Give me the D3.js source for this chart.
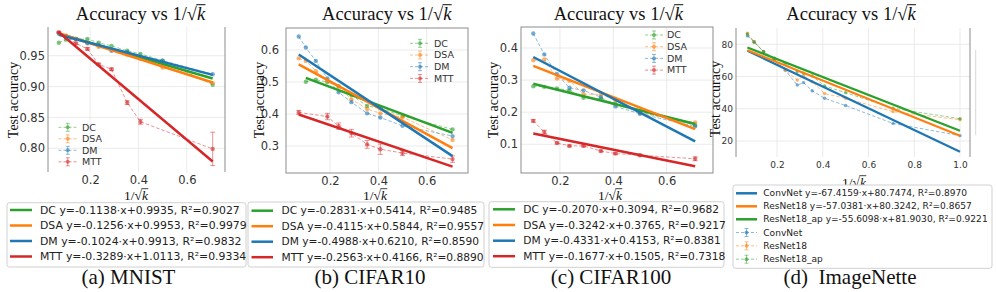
<!DOCTYPE html>
<html><head><meta charset="utf-8">
<script src="https://cdn.jsdelivr.net/npm/d3@7"></script>
<style>body{margin:0;background:#fff} svg{display:block}</style>
</head><body><svg id="c" width="996" height="292"></svg>
<script>
// ---------------- DATA ----------------
const xsFull = [0.0707, 0.1, 0.1414, 0.189, 0.2357, 0.2887, 0.3536, 0.4082, 0.5, 0.7071];
const xsFrom01 = [0.1, 0.1414, 0.189, 0.2357, 0.2887, 0.3536, 0.4082, 0.5, 0.7071];
const xsImageNette = [0.0707, 0.1, 0.1414, 0.189, 0.2357, 0.2887, 0.3162, 0.3536, 0.4082, 0.5, 0.7071, 1.0];

// (a) MNIST
const mnistDC  = [0.971, 0.976, 0.977, 0.977, 0.971, 0.966, 0.958, 0.953, 0.942, 0.903];
const mnistDSA = [0.987, 0.983, 0.977, 0.971, 0.964, 0.960, 0.952, 0.945, 0.931, 0.906];
const mnistDM  = [0.986, 0.980, 0.977, 0.970, 0.967, 0.958, 0.956, 0.948, 0.942, 0.920];
const xsMnistMTT = [0.0707, 0.1, 0.1414, 0.189, 0.2357, 0.2887, 0.3536, 0.4082, 0.7071];
const mnistMTT    = [0.988, 0.981, 0.970, 0.961, 0.936, 0.928, 0.874, 0.843, 0.799];
const mnistMTTerr = [0.001, 0.001, 0.002, 0.002, 0.002, 0.002, 0.003, 0.004, 0.027];

// (b) CIFAR10
const cifar10DC  = [0.501, 0.507, 0.500, 0.487, 0.459, 0.425, 0.418, 0.394, 0.352];
const cifar10DSA = [0.574, 0.566, 0.534, 0.503, 0.485, 0.446, 0.416, 0.402, 0.390, 0.319];
const cifar10DM  = [0.642, 0.608, 0.566, 0.511, 0.468, 0.437, 0.402, 0.389, 0.363, 0.331];
const xsCifar10MTT = [0.0707, 0.189, 0.2357, 0.2887, 0.3536, 0.4082, 0.5, 0.7071];
const cifar10MTT    = [0.405, 0.392, 0.362, 0.340, 0.305, 0.290, 0.278, 0.259];
const cifar10MTTerr = [0.006, 0.010, 0.010, 0.012, 0.012, 0.016, 0.008, 0.010];

// (c) CIFAR100
const cifar100DC  = [0.281, 0.279, 0.274, 0.268, 0.245, 0.242, 0.227, 0.201, 0.160];
const cifar100DSA = [0.362, 0.364, 0.305, 0.298, 0.256, 0.256, 0.237, 0.197, 0.168];
const cifar100DM  = [0.445, 0.380, 0.318, 0.276, 0.268, 0.247, 0.218, 0.195, 0.156];
const cifar100MTT = [0.173, 0.138, 0.104, 0.095, 0.095, 0.079, 0.071, 0.066, 0.055];
const cifar100MTTerr = [0.004, 0.006, 0.003, 0.003, 0.003, 0.003, 0.003, 0.003, 0.006];

// (d) ImageNette
const inConvNet    = [85.2, 81.6, 75.4, 70.0, 64.0, 54.7, 56.2, 51.2, 46.5, 42.0, 30.9, 23.3];
const inResNet18   = [86.8, 81.6, 75.4, 70.3, 64.0, 57.8, 60.3, 56.8, 49.4, 46.5, 38.2, 33.2];
const inResNet18ap = [86.4, 81.2, 75.4, 71.3, 68.2, 63.0, 62.0, 60.3, 54.1, 50.0, 40.3, 33.8];

// fits (slope, intercept) — order DC, DSA, DM, MTT
const fitSlopeA = [-0.1138, -0.1256, -0.1024, -0.3289], fitInterA = [0.9935, 0.9953, 0.9913, 1.0113];
const fitSlopeB = [-0.2831, -0.4115, -0.4988, -0.2563], fitInterB = [0.5414, 0.5844, 0.6210, 0.4166];
const fitSlopeC = [-0.2070, -0.3242, -0.4331, -0.1677], fitInterC = [0.3094, 0.3765, 0.4153, 0.1505];
// order ConvNet, ResNet18, ResNet18_ap
const fitSlopeD = [-67.4159, -57.0381, -55.6098], fitInterD = [80.7474, 80.3242, 81.9030];

const methodNames = ['DC', 'DSA', 'DM', 'MTT'];
const netNames = ['ConvNet', 'ResNet18', 'ResNet18_ap'];
const legendA = ['DC y=-0.1138·x+0.9935, R²=0.9027', 'DSA y=-0.1256·x+0.9953, R²=0.9979', 'DM y=-0.1024·x+0.9913, R²=0.9832', 'MTT y=-0.3289·x+1.0113, R²=0.9334'];
const legendB = ['DC y=-0.2831·x+0.5414, R²=0.9485', 'DSA y=-0.4115·x+0.5844, R²=0.9557', 'DM y=-0.4988·x+0.6210, R²=0.8590', 'MTT y=-0.2563·x+0.4166, R²=0.8890'];
const legendC = ['DC y=-0.2070·x+0.3094, R²=0.9682', 'DSA y=-0.3242·x+0.3765, R²=0.9217', 'DM y=-0.4331·x+0.4153, R²=0.8381', 'MTT y=-0.1677·x+0.1505, R²=0.7318'];
const legendD = ['ConvNet y=-67.4159·x+80.7474, R²=0.8970', 'ResNet18 y=-57.0381·x+80.3242, R²=0.8657', 'ResNet18_ap y=-55.6098·x+81.9030, R²=0.9221'];
const captions = ['(a) MNIST', '(b) CIFAR10', '(c) CIFAR100', '(d)  ImageNette'];

const ticksA_x = [0.2, 0.4, 0.6], ticksA_y = [0.80, 0.85, 0.90, 0.95];
const ticksB_x = [0.2, 0.4, 0.6], ticksB_y = [0.3, 0.4, 0.5, 0.6];
const ticksC_x = [0.2, 0.4, 0.6], ticksC_y = [0.1, 0.2, 0.3, 0.4];
const ticksD_x = [0.2, 0.4, 0.6, 0.8, 1.0], ticksD_y = [20, 40, 60, 80];

// ---------------- STYLE ----------------
const COL = {blue: '#1f77b4', orange: '#ff7f0e', green: '#2ca02c', red: '#d62728'};
const methodColors = [COL.green, COL.orange, COL.blue, COL.red];
const netColors = [COL.blue, COL.orange, COL.green];
const SERIF = '"Liberation Serif", "Times New Roman", serif';
const SANS = '"DejaVu Sans", sans-serif';
const svg = d3.select('#c');

function mathText(g, cx, y, fs, prefix) {
  const t = g.append('text').attr('y', y).attr('font-family', SERIF).attr('font-size', fs).attr('fill', '#111');
  t.append('tspan').text(prefix + '1/√');
  t.append('tspan').attr('font-style', 'italic').text('k');
  const w = t.node().getComputedTextLength();
  t.attr('x', cx - w / 2);
  const n = t.node(), L = prefix.length + 4;
  const r = n.getExtentOfChar(L - 2), k = n.getExtentOfChar(L - 1);
  const yy = y - fs * 0.80;
  g.append('line').attr('x1', r.x + r.width - 0.6).attr('x2', k.x + k.width + 0.3)
    .attr('y1', yy).attr('y2', yy).attr('stroke', '#111').attr('stroke-width', Math.max(0.8, fs * 0.055));
}

function errIcon(g, x0, x1, cy, color) {
  const m = (x0 + x1) / 2;
  g.append('line').attr('x1', x0).attr('x2', x1).attr('y1', cy).attr('y2', cy)
    .attr('stroke', color).attr('stroke-width', 1).attr('stroke-dasharray', '3,2').attr('opacity', 0.5);
  g.append('line').attr('x1', m).attr('x2', m).attr('y1', cy - 4).attr('y2', cy + 4).attr('stroke', color).attr('opacity', 0.5);
  g.append('line').attr('x1', m - 2).attr('x2', m + 2).attr('y1', cy - 4).attr('y2', cy - 4).attr('stroke', color).attr('opacity', 0.5);
  g.append('line').attr('x1', m - 2).attr('x2', m + 2).attr('y1', cy + 4).attr('y2', cy + 4).attr('stroke', color).attr('opacity', 0.5);
  g.append('circle').attr('cx', m).attr('cy', cy).attr('r', 2).attr('fill', color).attr('opacity', 0.6);
}

function panel(cfg) {
  const g = svg.append('g');
  const f = cfg.frame;
  const x = d3.scaleLinear().domain(cfg.xDomain).range([f.x0, f.x1]);
  const y = d3.scaleLinear().domain(cfg.yDomain).range([f.y1, f.y0]);

  // grid
  g.append('g').selectAll('line').data(cfg.xTicks).join('line')
    .attr('x1', d => x(d)).attr('x2', d => x(d)).attr('y1', f.y0).attr('y2', f.y1)
    .attr('stroke', '#e6e6e6').attr('stroke-width', 0.8);
  g.append('g').selectAll('line').data(cfg.yTicks).join('line')
    .attr('x1', f.x0).attr('x2', f.x1).attr('y1', d => y(d)).attr('y2', d => y(d))
    .attr('stroke', '#e6e6e6').attr('stroke-width', 0.8);

  // axes
  const ax = g.append('g').attr('transform', `translate(0,${f.y1})`)
    .call(d3.axisBottom(x).tickValues(cfg.xTicks).tickSize(0).tickPadding(cfg.xPad).tickFormat(d3.format(cfg.xFmt)));
  const ay = g.append('g').attr('transform', `translate(${f.x0},0)`)
    .call(d3.axisLeft(y).tickValues(cfg.yTicks).tickSize(0).tickPadding(cfg.yPad).tickFormat(d3.format(cfg.yFmt)));
  [ax, ay].forEach(a => {
    a.select('.domain').remove();
    a.selectAll('text').attr('font-family', SANS).attr('font-size', cfg.tickFs).attr('fill', '#333');
  });

  // spines
  const sc = '#8c8c8c';
  if (cfg.box) {
    g.append('rect').attr('x', f.x0).attr('y', f.y0).attr('width', f.x1 - f.x0).attr('height', f.y1 - f.y0)
      .attr('fill', 'none').attr('stroke', sc).attr('stroke-width', 1);
  } else {
    g.append('line').attr('x1', f.x0).attr('x2', f.x0).attr('y1', f.y0).attr('y2', f.y1).attr('stroke', sc);
    g.append('line').attr('x1', f.x1).attr('x2', f.x1).attr('y1', f.y0).attr('y2', f.y1).attr('stroke', sc);
  }

  // data series (dashed + markers + error bars)
  const line = d3.line().x(d => x(d[0])).y(d => y(d[1]));
  cfg.series.forEach(s => {
    const pts = s.xs.map((v, i) => [v, s.ys[i], s.err ? s.err[i] : 0]);
    g.append('path').attr('d', line(pts)).attr('fill', 'none').attr('stroke', s.color)
      .attr('stroke-width', 1).attr('stroke-dasharray', '3.5,2').attr('opacity', 0.5);
    pts.forEach(p => {
      if (p[2] > 0) {
        const cx = x(p[0]), ya = y(p[1] + p[2]), yb = y(p[1] - p[2]);
        g.append('line').attr('x1', cx).attr('x2', cx).attr('y1', ya).attr('y2', yb).attr('stroke', s.color).attr('opacity', 0.5);
        [ya, yb].forEach(yy => g.append('line').attr('x1', cx - 2.5).attr('x2', cx + 2.5).attr('y1', yy).attr('y2', yy)
          .attr('stroke', s.color).attr('opacity', 0.5));
      }
    });
    g.append('g').selectAll('circle').data(pts).join('circle')
      .attr('cx', d => x(d[0])).attr('cy', d => y(d[1])).attr('r', cfg.mr || 2.2)
      .attr('fill', s.color).attr('opacity', 0.6);
  });

  // fit lines
  cfg.fits.forEach(ft => {
    g.append('line').attr('x1', x(ft.x0)).attr('x2', x(ft.x1))
      .attr('y1', y(ft.slope * ft.x0 + ft.inter)).attr('y2', y(ft.slope * ft.x1 + ft.inter))
      .attr('stroke', ft.color).attr('stroke-width', cfg.fitW || 2.5);
  });

  // in-panel legend
  if (cfg.inLeg) {
    const L = cfg.inLeg;
    L.names.forEach((nm, i) => {
      const cy = L.y0 + i * L.dy;
      errIcon(g, L.x0, L.x1, cy, L.colors[i]);
      g.append('text').attr('x', L.tx).attr('y', cy).attr('dy', '0.35em').attr('font-family', SANS)
        .attr('font-size', L.fs).attr('fill', '#333').text(nm);
    });
  }

  // title, axis labels
  mathText(g, cfg.titleX, cfg.titleY, 18.5, 'Accuracy vs ');
  mathText(g, cfg.xlabX, cfg.xlabY, 13.5, '');
  g.append('text').attr('transform', `translate(${cfg.ylabX},${cfg.ylabY}) rotate(-90)`)
    .attr('text-anchor', 'middle').attr('dy', '0.35em').attr('font-family', SERIF).attr('font-size', 14)
    .attr('fill', '#111').text('Test accuracy');
}

function fitLegend(box, rows, colors, lineX0, lineX1, textX, targetW, errRows) {
  const g = svg.append('g');
  g.append('rect').attr('x', box.x0).attr('y', box.y0).attr('width', box.x1 - box.x0).attr('height', box.y1 - box.y0)
    .attr('rx', 2.5).attr('fill', '#fff').attr('stroke', '#d0d0d0').attr('stroke-width', 1);
  // size font so that the first row spans the measured width
  const probe = g.append('text').attr('font-family', SANS).attr('font-size', 10).text(rows[0]);
  const fs = 10 * targetW / probe.node().getComputedTextLength();
  probe.remove();
  rows.forEach((r, i) => {
    const cy = box.rowY[i];
    g.append('line').attr('x1', lineX0).attr('x2', lineX1).attr('y1', cy).attr('y2', cy)
      .attr('stroke', colors[i]).attr('stroke-width', 2.5);
    g.append('text').attr('x', textX).attr('y', cy).attr('dy', '0.35em').attr('font-family', SANS)
      .attr('font-size', fs).attr('fill', '#222').text(r);
  });
  if (errRows) {
    errRows.names.forEach((nm, i) => {
      const cy = errRows.rowY[i];
      errIcon(g, lineX0, lineX1, cy, errRows.colors[i]);
      g.append('text').attr('x', textX).attr('y', cy).attr('dy', '0.35em').attr('font-family', SANS)
        .attr('font-size', fs).attr('fill', '#222').text(nm);
    });
  }
}

function caption(cx, txt) {
  svg.append('text').attr('x', cx).attr('y', 284).attr('text-anchor', 'middle').attr('font-family', SERIF)
    .attr('font-size', 21).attr('fill', '#111').style('white-space', 'pre').text(txt);
}

// ---------------- PANELS ----------------
panel({
  frame: {x0: 48, x1: 225, y0: 27, y1: 172}, xDomain: [0.026, 0.758], yDomain: [0.7616, 0.9965],
  xTicks: ticksA_x, yTicks: ticksA_y, xFmt: '.1f', yFmt: '.2f', tickFs: 11.5, xPad: 4, yPad: 3, box: false,
  series: [
    {xs: xsFull, ys: mnistDC, color: COL.green},
    {xs: xsFull, ys: mnistDSA, color: COL.orange},
    {xs: xsFull, ys: mnistDM, color: COL.blue},
    {xs: xsMnistMTT, ys: mnistMTT, err: mnistMTTerr, color: COL.red}],
  fits: methodColors.map((c, i) => ({slope: fitSlopeA[i], inter: fitInterA[i], x0: 0.0707, x1: 0.7071, color: c})),
  inLeg: {names: methodNames, colors: methodColors, x0: 58.5, x1: 77, tx: 82, y0: 127.3, dy: 11.5, fs: 9.5},
  titleX: 140.5, titleY: 19.5, xlabX: 136, xlabY: 199.5, ylabX: 13, ylabY: 100
});

panel({
  frame: {x0: 286, x1: 468, y0: 28, y1: 173}, xDomain: [0.018, 0.771], yDomain: [0.2156, 0.6688],
  xTicks: ticksB_x, yTicks: ticksB_y, xFmt: '.1f', yFmt: '.1f', tickFs: 11.5, xPad: 4, yPad: 7, box: true,
  series: [
    {xs: xsFrom01, ys: cifar10DC, color: COL.green},
    {xs: xsFull, ys: cifar10DSA, color: COL.orange},
    {xs: xsFull, ys: cifar10DM, color: COL.blue},
    {xs: xsCifar10MTT, ys: cifar10MTT, err: cifar10MTTerr, color: COL.red}],
  fits: methodColors.map((c, i) => ({slope: fitSlopeB[i], inter: fitInterB[i], x0: i === 0 ? 0.1 : 0.0707, x1: 0.7071, color: c})),
  inLeg: {names: methodNames, colors: methodColors, x0: 410, x1: 430, tx: 434, y0: 43.3, dy: 11.7, fs: 9.5},
  titleX: 386.7, titleY: 19.5, xlabX: 375, xlabY: 199.5, ylabX: 259, ylabY: 100
});

panel({
  frame: {x0: 521, x1: 713, y0: 27, y1: 173}, xDomain: [0.054, 0.774], yDomain: [0.0106, 0.4654],
  xTicks: ticksC_x, yTicks: ticksC_y, xFmt: '.1f', yFmt: '.1f', tickFs: 11.5, xPad: 4, yPad: 3, box: true,
  series: [
    {xs: xsFrom01, ys: cifar100DC, color: COL.green},
    {xs: xsFrom01, ys: cifar100DSA, color: COL.orange},
    {xs: xsFrom01, ys: cifar100DM, color: COL.blue},
    {xs: xsFrom01, ys: cifar100MTT, err: cifar100MTTerr, color: COL.red}],
  fits: methodColors.map((c, i) => ({slope: fitSlopeC[i], inter: fitInterC[i], x0: 0.1, x1: 0.7071, color: c})),
  inLeg: {names: methodNames, colors: methodColors, x0: 645, x1: 663, tx: 667, y0: 35, dy: 11.7, fs: 9.5},
  titleX: 618.3, titleY: 19.5, xlabX: 610, xlabY: 199.5, ylabX: 493, ylabY: 100
});

panel({
  frame: {x0: 736, x1: 970, y0: 28, y1: 157}, xDomain: [0.0208, 1.0437], yDomain: [10.07, 90.1],
  xTicks: ticksD_x, yTicks: ticksD_y, xFmt: '.1f', yFmt: 'd', tickFs: 9, xPad: 4.6, yPad: 3, box: false, mr: 1.7, fitW: 2.2,
  series: [
    {xs: xsImageNette, ys: inConvNet, color: COL.blue},
    {xs: xsImageNette, ys: inResNet18, color: COL.orange},
    {xs: xsImageNette, ys: inResNet18ap, color: COL.green}],
  fits: netColors.map((c, i) => ({slope: fitSlopeD[i], inter: fitInterD[i], x0: 0.0707, x1: 1.0, color: c})),
  titleX: 851, titleY: 19.5, xlabX: 854, xlabY: 186.5, ylabX: 715, ylabY: 99
});
// faint artifact line at right of panel (d)
svg.append('line').attr('x1', 975.7).attr('x2', 975.7).attr('y1', 50).attr('y2', 135).attr('stroke', '#d8d8d8');

// ---------------- FIT LEGENDS ----------------
fitLegend({x0: 7, x1: 246, y0: 202.7, y1: 267, rowY: [210, 225.5, 241, 256.5]}, legendA, methodColors, 10, 32, 40, 200);
fitLegend({x0: 248, x1: 484, y0: 202, y1: 267, rowY: [210.7, 226.2, 241.7, 257.2]}, legendB, methodColors, 251.5, 273, 281.5, 196);
fitLegend({x0: 489, x1: 724, y0: 201.7, y1: 267.3, rowY: [209.3, 225, 240.7, 256.2]}, legendC, methodColors, 493, 515, 523.3, 196);
fitLegend({x0: 733, x1: 992, y0: 185, y1: 268.3, rowY: [193.3, 206.3, 219.3]}, legendD, netColors, 736, 757, 763.3, 204,
  {names: netNames, colors: netColors, rowY: [232.5, 245.8, 259.2]});

// ---------------- CAPTIONS ----------------
caption(128.5, captions[0]);
caption(370, captions[1]);
caption(611, captions[2]);
caption(850, captions[3]);
</script>
</body></html>
